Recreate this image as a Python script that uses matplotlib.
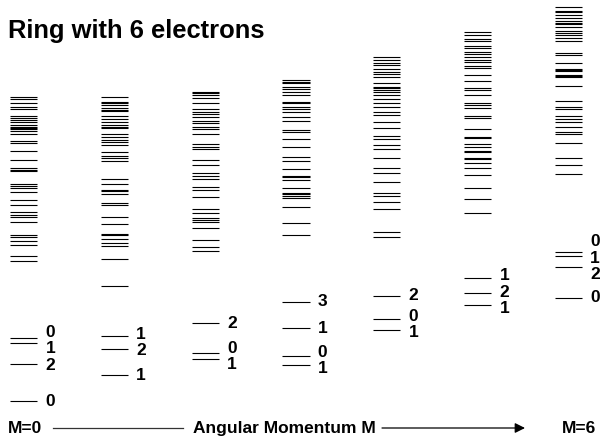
import matplotlib
matplotlib.use("Agg")
import matplotlib.pyplot as plt

plt.rcParams['font.family'] = ['Liberation Sans', 'DejaVu Sans']

# energy levels of a ring with 6 electrons, one column per angular momentum M
# (arbitrary energy units, ground state of M=0 at 0)
ang_mom = [0, 1, 2, 3, 4, 5, 6]

# lowest levels, labelled with their quantum number
low_m0 = [6.27, 5.77, 3.67, 0.0]
low_m1 = [6.5, 5.17, 2.57]
low_m2 = [7.77, 4.77, 4.17]
low_m3 = [9.93, 7.27, 4.5, 3.6]
low_m4 = [10.5, 8.17, 7.1]
low_m5 = [12.27, 10.77, 9.6]
low_m6 = [14.9, 14.5, 13.37, 10.33]

lab_m0 = ["0", "1", "2", "0"]
lab_m1 = ["1", "2", "1"]
lab_m2 = ["2", "0", "1"]
lab_m3 = ["3", "1", "0", "1"]
lab_m4 = ["2", "0", "1"]
lab_m5 = ["1", "2", "1"]
lab_m6 = ["0", "1", "2", "0"]

# higher (unlabelled) levels
high_m0 = [30.35, 30.2, 29.77, 29.35, 29.2, 28.5, 28.27, 28.05, 27.85, 27.63,
           27.4, 27.3, 27.15, 26.97, 26.7, 25.95, 25.8, 24.97, 24.07, 23.25,
           23.1, 22.95, 21.7, 21.5, 21.27, 20.87, 20.1, 19.63, 18.85, 18.6,
           18.4, 17.9, 16.55, 16.4, 16.0, 15.57, 14.5, 13.97]
high_m1 = [30.37, 29.93, 29.75, 29.55, 29.25, 29.1, 28.95, 28.5, 28.17, 27.87,
           27.55, 27.4, 27.25, 26.67, 26.37, 26.1, 25.9, 25.63, 24.87, 24.53,
           24.27, 24.0, 22.2, 21.67, 21.1, 20.95, 20.67, 19.75, 19.6, 18.43,
           17.67, 16.73, 16.57, 16.2, 15.83, 15.5, 14.23, 11.53]
high_m2 = [30.93, 30.77, 30.6, 30.27, 29.77, 29.17, 28.87, 28.67, 28.37, 27.97,
           27.77, 27.43, 27.2, 26.7, 25.67, 25.43, 25.23, 24.1, 23.57, 22.83,
           22.53, 22.17, 21.37, 21.1, 20.4, 19.23, 18.83, 18.3, 18.1, 17.93,
           17.33, 16.13, 15.37, 15.03]
high_m3 = [32.05, 31.9, 31.77, 31.35, 31.2, 30.93, 30.57, 29.93, 29.75, 29.4,
           29.2, 28.87, 28.43, 28.03, 27.1, 26.93, 26.17, 25.4, 24.37, 24.0,
           23.23, 22.5, 22.37, 22.1, 21.27, 20.83, 20.65, 20.45, 20.27, 19.37,
           17.77, 16.63]
high_m4 = [34.37, 34.1, 33.83, 33.63, 33.17, 32.93, 32.7, 32.37, 31.77, 31.43,
           31.27, 31.1, 30.87, 30.63, 30.17, 29.83, 29.37, 28.9, 28.63, 27.87,
           27.27, 26.53, 26.17, 25.63, 25.23, 24.33, 23.33, 22.77, 21.87, 20.77,
           20.53, 19.93, 19.17, 16.87, 16.37]
high_m5 = [36.87, 36.6, 36.17, 36.0, 35.5, 35.33, 34.93, 34.67, 34.4, 34.13,
           33.93, 33.53, 33.33, 32.6, 32.03, 31.33, 31.13, 30.57, 29.83, 29.6,
           29.33, 28.53, 28.27, 27.23, 26.4, 26.27, 25.73, 25.4, 25.03, 24.87,
           24.33, 24.2, 23.77, 23.33, 22.63, 21.27, 20.23, 18.77]
high_m6 = [39.43, 39.03, 38.9, 38.63, 38.3, 37.97, 37.83, 37.7, 37.37, 36.97,
           36.77, 36.57, 36.3, 36.03, 34.83, 34.6, 33.83, 33.23, 33.1, 32.97,
           32.63, 32.5, 32.37, 31.5, 30.03, 29.43, 29.23, 28.53, 28.17, 27.93,
           27.43, 26.9, 26.67, 25.83, 24.33, 23.63, 22.73]

low_levels = [low_m0, low_m1, low_m2, low_m3, low_m4, low_m5, low_m6]
low_labels = [lab_m0, lab_m1, lab_m2, lab_m3, lab_m4, lab_m5, lab_m6]
high_levels = [high_m0, high_m1, high_m2, high_m3, high_m4, high_m5, high_m6]

LINE_LEN = 0.30     # length of one level line, in units of M
LABEL_GAP = 1.65    # min vertical distance between two labels
FONT = 12.5


# push labels apart so that close levels get readable numbers
# @param vals energies of the levels
# @param gap minimum distance between labels
# @return list of label positions, same order as vals
def spreadLabels(vals, gap):
    order = sorted(range(len(vals)), key=lambda i: vals[i])
    pos = [vals[i] for i in order]
    for _ in range(200):
        for k in range(len(pos) - 1):
            d = pos[k + 1] - pos[k]
            if d < gap:
                shift = (gap - d) / 2
                pos[k] -= shift
                pos[k + 1] += shift
    out = [0] * len(vals)
    for k, i in enumerate(order):
        out[i] = pos[k]
    return out


fig = plt.figure(figsize=(6.07, 4.44), dpi=100)
ax = fig.add_axes([0, 0, 1, 1])
ax.set_xlim(-0.110, 6.575)
ax.set_ylim(-4.3, 40.1)
ax.axis('off')

for m, highs, lows, labs in zip(ang_mom, high_levels, low_levels, low_labels):
    ax.hlines(highs + lows, m, m + LINE_LEN, color='black', lw=0.8)
    ypos = spreadLabels(lows, LABEL_GAP)
    for y, lab in zip(ypos, labs):
        ax.text(m + LINE_LEN + 0.09, y, lab, fontsize=FONT, fontweight='bold',
                ha='left', va='center')

fig.text(8 / 607, 1 - 31 / 444, "Ring with 6 electrons", fontsize=18.4,
         fontweight='bold', ha='left', va='center')

ybot = 1 - 428 / 444
fig.text(8 / 607, ybot, "M=0", fontsize=FONT, fontweight='bold',
         ha='left', va='center')
fig.text(193 / 607, ybot, "Angular Momentum M", fontsize=FONT, fontweight='bold',
         ha='left', va='center')
fig.text(596 / 607, ybot, "M=6", fontsize=FONT, fontweight='bold',
         ha='right', va='center')
fig.add_artist(plt.Line2D([53 / 607, 183 / 607], [ybot, ybot], color='#333333', lw=0.9))
ax.annotate("", xy=(525 / 607, ybot), xytext=(382 / 607, ybot),
            xycoords='figure fraction', textcoords='figure fraction',
            arrowprops=dict(arrowstyle='-|>', color='black', lw=0.9,
                            mutation_scale=15, shrinkA=0, shrinkB=0))

fig.savefig("out.png", dpi=100)
